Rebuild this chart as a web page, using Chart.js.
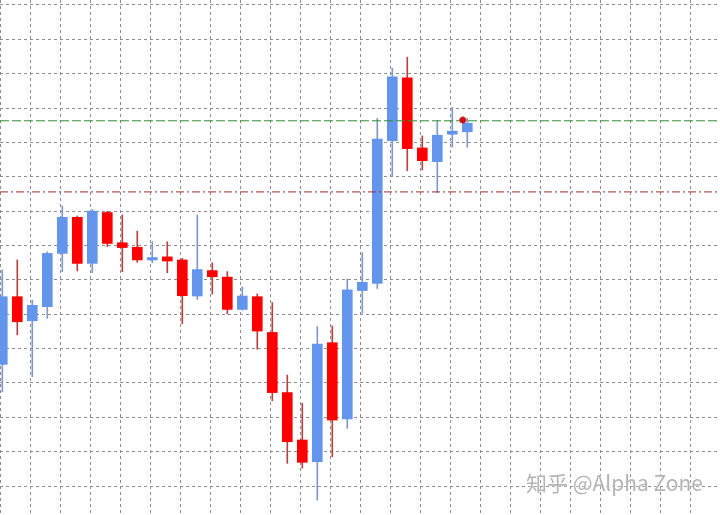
<!DOCTYPE html>
<html lang="zh">
<head>
    <meta charset="UTF-8">
    <title>Candles</title>
    <script src="https://cdn.jsdelivr.net/npm/chart.js"></script>
    <style>
        html, body { margin: 0; padding: 0; background: #fff; }
        #wrap { position: relative; width: 720px; height: 515px; overflow: hidden; }
        #mark {
            position: absolute; left: 526px; top: 467px;
            font-family: "Noto Sans CJK SC", "Liberation Sans", sans-serif;
            font-size: 21px; color: #b4b4b4; white-space: nowrap;
            text-shadow: 0 0 2px #fff, 0 0 1px #fff;
        }
    </style>
</head>
<body>
    <div id="wrap">
        <canvas id="chart"></canvas>
        <div id="mark">知乎 @Alpha Zone</div>
    </div>

    <script>
        // one entry per bar, left to right
        const opens  = [45.4, 65.1, 58.1, 62.2, 77.7, 88.2, 74.8, 89.6, 80.8, 79.5, 75.8, 76.7, 75.8, 65.3, 72.7, 70.8,
                        61.4, 65.1, 54.7, 37.2, 23.4, 17.1, 51.7, 29.5, 66.9, 69.0, 110.5, 128.8, 108.4, 104.4, 112.4, 113.1];
        const highs  = [72.9, 75.8, 64.1, 78.2, 91.5, 88.6, 90.5, 90.0, 88.9, 84.2, 81.1, 81.1, 76.3, 88.9, 75.0, 72.4,
                        68.0, 65.9, 63.4, 42.3, 34.1, 56.4, 56.6, 70.3, 77.9, 117.0, 131.6, 134.8, 111.9, 116.3, 120.2, 117.0];
        const lows   = [37.4, 54.0, 41.8, 58.8, 72.4, 72.6, 72.1, 79.7, 72.4, 75.1, 75.0, 72.1, 57.2, 64.3, 65.9, 60.1,
                        61.2, 49.8, 34.8, 16.6, 15.2, 5.9, 18.5, 26.8, 60.3, 67.5, 100.0, 101.8, 102.0, 95.4, 108.6, 108.6];
        const closes = [65.1, 57.8, 62.6, 77.7, 88.2, 74.8, 90.0, 80.6, 79.4, 75.8, 76.5, 75.5, 65.4, 73.0, 70.9, 61.4,
                        65.3, 55.1, 37.2, 22.9, 16.9, 51.3, 29.2, 67.1, 69.3, 111.0, 129.1, 108.2, 104.7, 112.1, 113.3, 115.6];

        const upperLevel = 116.3;   // green dashed
        const lowerLevel = 95.6;    // red dash-dot
        const markerX = [30.7];
        const markerY = [116.5];

        const xMin = -0.153, xMax = 47.847;
        const yMin = 1.57, yMax = 151.455;

        const up = '#6495ed', down = '#ff0000';
        const isUp = opens.map((o, i) => closes[i] >= o);

        const bodies = opens.map((o, i) => ({ x: i, y: [o, closes[i]] }));
        const wicks = lows.map((l, i) => ({ x: i, y: [l, highs[i]] }));

        const ctx = document.getElementById('chart').getContext('2d');
        new Chart(ctx, {
            type: 'bar',
            data: {
                datasets: [
                    {
                        data: wicks,
                        backgroundColor: isUp.map(u => u ? '#7f98c8' : '#b84040'),
                        barThickness: 1,
                        grouped: false,
                        borderSkipped: false,
                        order: 3
                    },
                    {
                        data: bodies,
                        backgroundColor: isUp.map(u => u ? up : down),
                        barThickness: 10,
                        minBarLength: 2,
                        grouped: false,
                        borderSkipped: false,
                        order: 2
                    },
                    {
                        type: 'line',
                        data: [{ x: xMin, y: upperLevel }, { x: xMax, y: upperLevel }],
                        borderColor: '#2f8f2f',
                        borderWidth: 1,
                        borderDash: [9, 3],
                        pointRadius: 0,
                        order: 1
                    },
                    {
                        type: 'line',
                        data: [{ x: xMin, y: lowerLevel }, { x: xMax, y: lowerLevel }],
                        borderColor: '#a02a2a',
                        borderWidth: 1,
                        borderDash: [8, 3, 2, 3],
                        pointRadius: 0,
                        order: 1
                    },
                    {
                        type: 'scatter',
                        data: markerX.map((x, i) => ({ x: x, y: markerY[i] })),
                        pointStyle: 'star',
                        pointRadius: 3.5,
                        borderColor: '#d01010',
                        borderWidth: 2,
                        backgroundColor: '#d01010',
                        order: 0
                    }
                ]
            },
            options: {
                responsive: true,
                maintainAspectRatio: false,
                animation: false,
                layout: { padding: 0, autoPadding: false },
                plugins: { legend: { display: false }, tooltip: { enabled: false } },
                scales: {
                    x: {
                        type: 'linear',
                        min: xMin,
                        max: xMax,
                        offset: false,
                        grid: { offset: false, color: '#8c8c8c', drawTicks: false },
                        border: { display: false, dash: [3, 3] },
                        ticks: { display: false, stepSize: 2, includeBounds: false }
                    },
                    y: {
                        min: yMin,
                        max: yMax,
                        grid: { color: '#8c8c8c', drawTicks: false },
                        border: { display: false, dash: [3, 3] },
                        ticks: { display: false, stepSize: 10, includeBounds: false }
                    }
                }
            }
        });
    </script>
</body>
</html>
